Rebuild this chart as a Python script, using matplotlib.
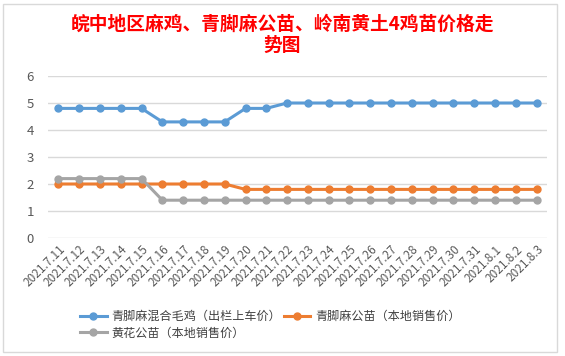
import matplotlib.pyplot as plt
from matplotlib.patches import Rectangle

plt.rcParams['font.family'] = ['Noto Sans CJK SC', 'DejaVu Sans']

dates = ['2021.7.11', '2021.7.12', '2021.7.13', '2021.7.14', '2021.7.15',
         '2021.7.16', '2021.7.17', '2021.7.18', '2021.7.19', '2021.7.20',
         '2021.7.21', '2021.7.22', '2021.7.23', '2021.7.24', '2021.7.25',
         '2021.7.26', '2021.7.27', '2021.7.28', '2021.7.29', '2021.7.30',
         '2021.7.31', '2021.8.1', '2021.8.2', '2021.8.3']
qjm_mixed = [4.8] * 5 + [4.3] * 4 + [4.8] * 2 + [5.0] * 13
qjm_male = [2.0] * 9 + [1.8] * 15
hh_male = [2.2] * 5 + [1.4] * 19

names = ['青脚麻混合毛鸡（出栏上车价）', '青脚麻公苗（本地销售价）', '黄花公苗（本地销售价）']
colors = ['#5B9BD5', '#ED7D31', '#A5A5A5']


def main():
    fig = plt.figure(figsize=(5.65, 3.56), dpi=100)
    # chart border like in the spreadsheet
    fig.patches.append(Rectangle((0.006, 0.01), 0.98, 0.98, transform=fig.transFigure,
                                 fill=False, edgecolor='#D9D9D9', lw=1))
    ax = fig.add_axes([48 / 565, 1 - 238 / 356, 499 / 565, 162 / 356])

    x = range(len(dates))
    lines = []
    for ys, name, c in zip([qjm_mixed, qjm_male, hh_male], names, colors):
        l, = ax.plot(x, ys, color=c, lw=2.2, marker='o', markersize=5, label=name)
        lines.append(l)

    ax.set_xlim(-0.5, len(dates) - 0.5)
    ax.set_ylim(0, 6)
    ax.set_yticks(range(7))
    ax.grid(axis='y', color='#D9D9D9', lw=1)
    ax.set_axisbelow(True)
    for s in ax.spines.values():
        s.set_visible(False)
    ax.tick_params(length=0, colors='#595959', labelsize=9.5)
    ax.tick_params(axis='y', pad=10)
    ax.set_xticks(list(x))
    ax.set_xticklabels(dates, rotation=45, ha='right', rotation_mode='anchor', fontsize=8.5)

    fig.text(0.50, 1 - 24 / 356, '皖中地区麻鸡、青脚麻公苗、岭南黄土4鸡苗价格走', color='#FF0000',
             fontsize=13.5, fontweight='bold', ha='center', va='center')
    fig.text(0.50, 1 - 45 / 356, '势图', color='#FF0000',
             fontsize=13.5, fontweight='bold', ha='center', va='center')

    # row-wise order: blue, orange / gray
    order = [lines[0], lines[2], lines[1]]
    fig.legend(order, [l.get_label() for l in order], loc='upper left',
               bbox_to_anchor=(74 / 565, 1 - 304 / 356), ncol=2, frameon=False,
               fontsize=8.7, labelcolor='#404040', handlelength=2.2, columnspacing=0.2,
               handletextpad=0.4, labelspacing=0.3, borderpad=0)

    fig.savefig('out.png', dpi=100)


if __name__ == "__main__":
    main()
